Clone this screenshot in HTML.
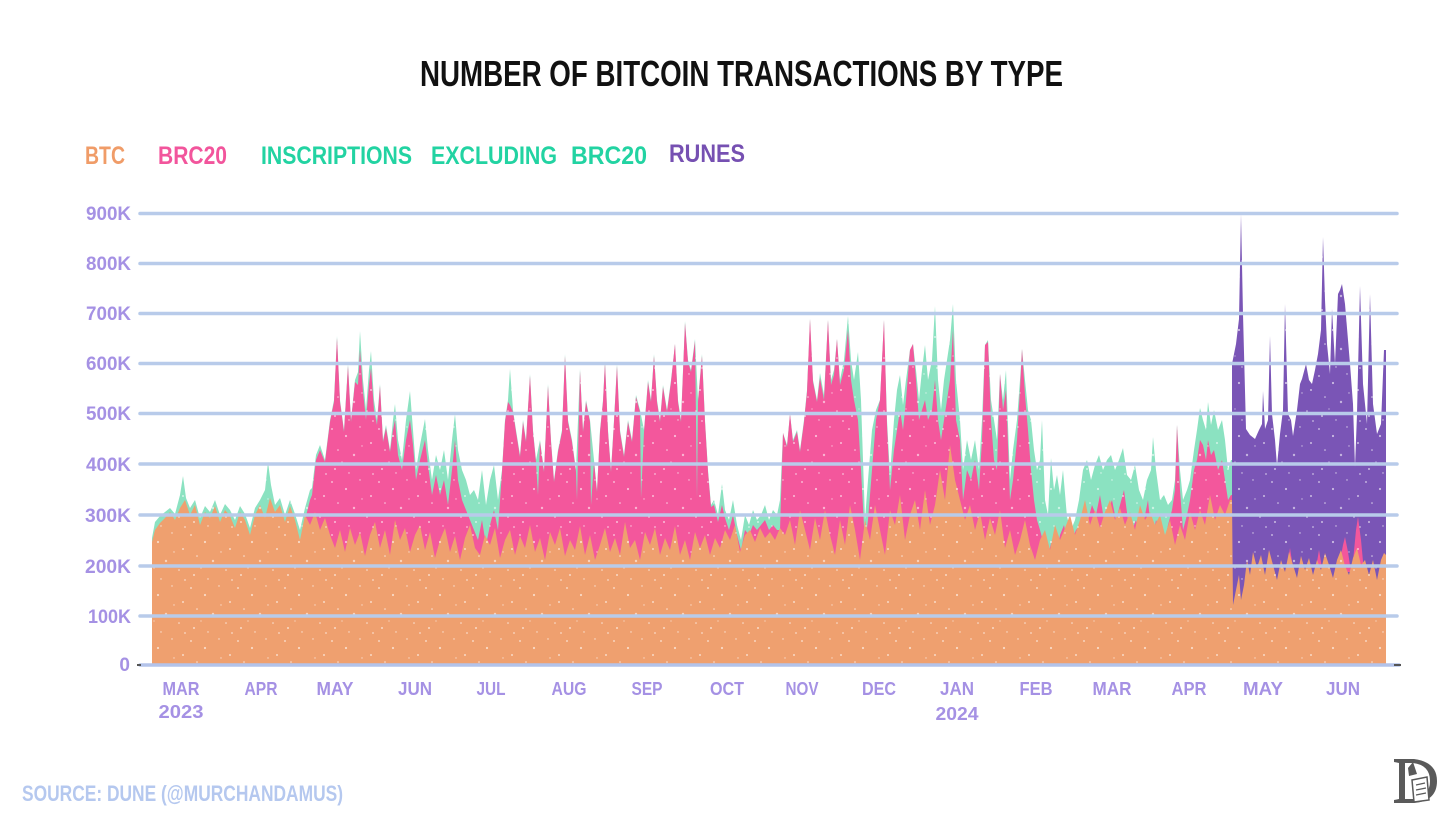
<!DOCTYPE html>
<html><head><meta charset="utf-8">
<style>
html,body{margin:0;padding:0;background:#fff;}
svg{display:block;}
text{font-family:"Liberation Sans",sans-serif;font-weight:bold;}
</style></head>
<body>
<svg width="1456" height="819" viewBox="0 0 1456 819" xmlns="http://www.w3.org/2000/svg" xmlns:xlink="http://www.w3.org/1999/xlink">
<defs>
<pattern id="spk" x="0" y="0" width="47" height="53" patternUnits="userSpaceOnUse">
<circle cx="3" cy="5" r="0.9" fill="#fff" fill-opacity="0.7"/>
<circle cx="17" cy="12" r="1.1" fill="#fff" fill-opacity="0.6"/>
<circle cx="31" cy="3" r="0.7" fill="#fff" fill-opacity="0.7"/>
<circle cx="42" cy="19" r="1" fill="#fff" fill-opacity="0.6"/>
<circle cx="9" cy="26" r="0.8" fill="#fff" fill-opacity="0.7"/>
<circle cx="25" cy="31" r="1.2" fill="#fff" fill-opacity="0.55"/>
<circle cx="38" cy="40" r="0.8" fill="#fff" fill-opacity="0.7"/>
<circle cx="6" cy="45" r="1" fill="#fff" fill-opacity="0.6"/>
<circle cx="20" cy="49" r="0.7" fill="#fff" fill-opacity="0.7"/>
<circle cx="33" cy="22" r="0.7" fill="#fff" fill-opacity="0.6"/>
<circle cx="13" cy="38" r="0.6" fill="#fff" fill-opacity="0.7"/>
<circle cx="44" cy="50" r="0.9" fill="#fff" fill-opacity="0.6"/>
</pattern>
<clipPath id="dclip">
<use xlink:href="#mintp"/>
<use xlink:href="#purp"/>
</clipPath>
</defs>
<rect width="1456" height="819" fill="#fff"/>

<g id="data">
<path id="purp" fill="#7a55b6" d="M1232,664 L1232,364 L1236,344 L1239,319 L1241,214 L1243,314 L1246,429 L1250,435 L1255,439 L1259,430 L1262,424 L1263,391 L1265,429 L1268,420 L1270,336 L1272,414 L1275,440 L1277,466 L1280,434 L1283,410 L1285,304 L1288,414 L1291,420 L1293,436 L1297,410 L1300,384 L1302,379 L1306,364 L1309,380 L1312,384 L1315,370 L1318,354 L1321,330 L1323,237 L1325,300 L1327,344 L1330,374 L1332,309 L1335,364 L1338,294 L1340,290 L1342,284 L1345,304 L1348,340 L1350,364 L1353,404 L1355,467 L1357,414 L1360,286 L1363,384 L1367,424 L1370,294 L1373,404 L1377,434 L1381,424 L1384,350 L1386,350 L1386,664 Z"/>

<path id="mintp" fill="#8be2c1" d="M152,664 L152,538 L155,522 L160,516 L165,512 L170,508 L175,514 L180,495 L183,476 L186,498 L190,508 L195,500 L200,518 L205,506 L210,512 L215,500 L220,515 L225,504 L230,510 L235,520 L240,506 L245,514 L250,528 L255,508 L260,500 L265,490 L268,462 L271,485 L275,505 L280,498 L285,515 L290,500 L295,514 L300,530 L305,508 L310,490 L312,488 L316,455 L320,445 L325,460 L330,420 L334,400 L337,336 L340,400 L344,430 L348,364 L351,420 L355,380 L358,372 L360,331 L363,380 L366,410 L369,370 L371,351 L374,400 L377,420 L380,384 L383,440 L386,425 L390,450 L393,420 L395,404 L398,440 L402,460 L406,420 L410,391 L413,430 L416,470 L420,445 L425,419 L428,450 L432,480 L436,455 L440,470 L444,450 L448,480 L452,440 L455,414 L458,450 L462,470 L466,480 L470,495 L474,490 L478,500 L482,470 L486,505 L490,480 L494,465 L498,500 L502,470 L505,420 L508,400 L510,369 L513,410 L516,430 L520,455 L523,420 L526,440 L530,374 L533,430 L536,460 L540,440 L544,470 L548,384 L551,440 L554,480 L558,450 L562,430 L565,354 L568,420 L572,440 L576,470 L580,369 L583,430 L586,400 L590,420 L594,460 L597,490 L600,430 L603,400 L605,361 L608,430 L611,470 L614,420 L617,364 L620,430 L624,455 L628,420 L632,440 L636,395 L640,410 L644,430 L648,380 L651,400 L654,354 L657,400 L660,420 L663,385 L667,410 L671,380 L675,344 L678,400 L681,420 L685,321 L688,360 L691,370 L695,339 L698,400 L702,354 L705,420 L708,470 L711,505 L714,500 L718,515 L722,484 L725,510 L729,520 L733,500 L737,525 L741,540 L745,515 L749,525 L753,510 L757,520 L761,515 L765,505 L769,520 L773,510 L777,515 L780,500 L783,433 L787,445 L790,414 L793,440 L797,430 L800,450 L804,420 L807,390 L810,319 L813,380 L817,400 L820,373 L824,395 L828,320 L831,380 L834,370 L837,339 L840,380 L844,360 L848,316 L851,360 L854,380 L858,352 L861,400 L865,520 L868,480 L872,430 L876,410 L880,400 L884,320 L887,420 L890,475 L894,420 L897,390 L900,375 L903,405 L906,380 L910,350 L913,344 L916,370 L919,400 L922,370 L925,345 L928,380 L932,360 L935,306 L938,380 L941,410 L944,380 L947,360 L950,340 L953,304 L956,380 L960,420 L963,470 L967,440 L971,460 L975,440 L979,470 L982,420 L985,345 L988,340 L991,400 L994,420 L997,440 L1000,374 L1003,400 L1006,370 L1010,480 L1013,450 L1017,420 L1020,380 L1022,349 L1025,380 L1028,410 L1031,420 L1034,450 L1037,470 L1040,460 L1042,420 L1045,500 L1048,515 L1051,458 L1054,490 L1057,475 L1060,495 L1063,470 L1067,517 L1071,530 L1075,520 L1079,500 L1083,470 L1087,460 L1091,480 L1095,465 L1099,455 L1103,470 L1107,460 L1111,455 L1115,470 L1119,460 L1123,448 L1127,475 L1131,480 L1135,465 L1139,490 L1143,500 L1147,480 L1151,470 L1153,437 L1156,470 L1160,500 L1164,495 L1168,505 L1172,500 L1175,480 L1177,425 L1180,470 L1183,500 L1187,490 L1190,480 L1194,450 L1197,430 L1200,408 L1203,420 L1206,430 L1208,402 L1211,425 L1214,410 L1218,430 L1222,420 L1225,440 L1228,470 L1231,460 L1232,460 L1232,664 Z"/>

<path fill="#f3579c" d="M152,664 L152,570 L300,570 L305,520 L310,500 L312,495 L316,460 L320,450 L325,462 L330,422 L334,402 L337,338 L340,402 L344,432 L348,366 L351,422 L355,382 L358,385 L360,350 L363,392 L366,420 L369,385 L371,368 L374,410 L377,425 L380,386 L383,442 L386,428 L390,452 L393,430 L395,420 L398,455 L402,470 L406,440 L410,420 L413,445 L416,480 L420,460 L425,440 L428,465 L432,495 L436,475 L440,495 L444,480 L448,505 L452,470 L455,440 L458,480 L462,500 L466,510 L470,520 L474,530 L478,540 L482,520 L486,545 L490,525 L494,510 L498,530 L502,472 L505,422 L508,402 L510,405 L513,412 L516,432 L520,457 L523,422 L526,442 L530,376 L533,432 L536,462 L538,495 L540,442 L544,472 L548,386 L551,442 L554,482 L558,452 L562,432 L565,356 L568,422 L572,442 L576,472 L577,500 L580,371 L583,432 L586,402 L590,422 L591,505 L594,462 L597,492 L600,432 L603,402 L605,363 L608,432 L611,472 L614,422 L617,366 L620,432 L624,457 L628,422 L632,442 L636,397 L640,412 L641,498 L644,432 L648,382 L651,402 L654,356 L657,402 L660,422 L663,387 L667,412 L671,382 L675,344 L678,402 L681,422 L685,323 L688,362 L691,372 L695,341 L697,498 L698,402 L702,356 L705,422 L708,472 L711,507 L714,505 L718,522 L722,505 L725,518 L729,530 L733,515 L737,535 L741,550 L745,530 L749,535 L753,525 L757,530 L761,525 L765,520 L769,530 L773,525 L777,530 L780,530 L783,433 L787,447 L790,414 L793,442 L797,432 L800,452 L804,422 L807,392 L810,319 L813,382 L817,402 L820,378 L824,400 L828,320 L831,385 L834,375 L837,339 L840,385 L844,370 L848,330 L851,380 L854,400 L858,420 L861,470 L865,545 L868,520 L872,470 L876,420 L880,400 L884,320 L887,425 L890,490 L894,450 L897,430 L900,410 L903,430 L906,400 L910,350 L913,344 L916,380 L919,420 L922,410 L925,400 L928,420 L932,410 L935,380 L938,420 L941,440 L944,420 L947,400 L950,380 L953,330 L956,420 L960,440 L963,500 L967,470 L971,480 L975,460 L979,490 L982,440 L985,345 L988,342 L991,420 L994,460 L997,470 L1000,374 L1003,410 L1006,390 L1010,500 L1013,480 L1017,440 L1020,390 L1022,349 L1025,395 L1028,430 L1031,470 L1034,500 L1037,520 L1040,530 L1044,545 L1048,555 L1052,540 L1056,560 L1060,535 L1064,525 L1068,545 L1072,540 L1076,530 L1080,525 L1084,510 L1088,520 L1092,505 L1096,515 L1100,495 L1104,520 L1108,510 L1112,500 L1116,520 L1120,505 L1124,490 L1128,520 L1132,530 L1136,520 L1140,540 L1144,520 L1148,500 L1152,540 L1156,520 L1160,530 L1164,545 L1168,525 L1172,510 L1175,490 L1177,425 L1180,490 L1183,530 L1187,515 L1190,500 L1194,470 L1197,460 L1200,440 L1203,445 L1206,460 L1208,440 L1211,455 L1214,450 L1218,470 L1222,460 L1225,480 L1228,500 L1231,495 L1232,495 L1232,664 Z"/>
<path fill="#f3579c" d="M1338,572 L1343,545 L1345,537 L1348,552 L1351,572 Z M1352,572 L1356,530 L1358,517 L1361,540 L1364,572 Z M1287,568 L1290,548 L1293,568 Z M1316,568 L1319,550 L1322,568 Z"/>

<path fill="#efa06f" d="M152,664 L152,542 L155,530 L160,523 L165,518 L170,512 L175,520 L180,508 L185,500 L190,515 L195,505 L200,525 L205,512 L210,518 L215,506 L220,522 L225,510 L230,516 L235,528 L240,512 L245,520 L250,535 L255,515 L260,505 L265,518 L270,498 L275,512 L280,505 L285,522 L290,506 L295,520 L300,540 L305,515 L310,525 L315,512 L320,530 L325,518 L330,535 L335,548 L340,530 L345,552 L350,528 L355,545 L360,532 L365,556 L370,535 L375,522 L380,548 L385,530 L390,555 L395,520 L400,540 L405,528 L410,552 L415,535 L420,525 L425,550 L430,532 L435,558 L440,540 L445,528 L450,552 L455,536 L460,560 L465,538 L470,525 L475,548 L480,555 L485,535 L490,545 L495,528 L500,558 L505,540 L510,530 L515,555 L520,536 L525,548 L530,525 L535,552 L540,538 L545,560 L550,532 L555,545 L560,528 L565,556 L570,540 L575,550 L580,526 L585,555 L590,535 L595,560 L600,545 L605,528 L610,552 L615,538 L620,555 L625,522 L630,548 L635,540 L640,560 L645,532 L650,545 L655,528 L660,555 L665,538 L670,550 L675,526 L680,555 L685,540 L690,560 L695,532 L700,548 L705,535 L710,555 L715,538 L720,548 L725,530 L730,540 L735,525 L740,552 L745,535 L750,530 L755,542 L760,528 L765,538 L770,532 L775,540 L780,528 L785,535 L790,520 L795,545 L800,510 L805,530 L810,550 L815,518 L820,540 L825,510 L830,535 L835,555 L840,520 L845,545 L850,505 L855,530 L860,560 L865,520 L870,540 L875,505 L880,530 L885,555 L890,510 L895,525 L900,495 L905,540 L910,515 L915,500 L920,530 L925,490 L930,525 L935,505 L940,470 L945,500 L950,445 L955,480 L960,500 L965,520 L970,505 L975,530 L980,512 L985,540 L990,518 L995,535 L1000,510 L1005,548 L1010,530 L1015,555 L1020,540 L1025,520 L1030,545 L1035,560 L1040,540 L1045,530 L1050,550 L1055,525 L1060,540 L1065,528 L1070,515 L1075,535 L1080,520 L1085,500 L1090,525 L1095,510 L1100,528 L1105,512 L1110,500 L1115,520 L1120,508 L1125,525 L1130,512 L1135,530 L1140,505 L1145,520 L1150,512 L1155,525 L1160,515 L1165,535 L1170,520 L1175,545 L1180,525 L1185,540 L1190,512 L1195,530 L1200,510 L1205,525 L1210,495 L1215,520 L1220,505 L1225,515 L1230,500 L1232,500 L1233,605 L1236,590 L1239,575 L1241,600 L1244,585 L1247,560 L1250,575 L1253,552 L1257,568 L1261,555 L1265,575 L1269,550 L1273,565 L1277,580 L1281,560 L1285,572 L1289,552 L1293,565 L1297,578 L1301,556 L1305,570 L1309,558 L1313,575 L1317,560 L1321,570 L1325,553 L1329,565 L1333,578 L1337,560 L1341,550 L1345,566 L1349,575 L1353,558 L1357,548 L1361,565 L1365,560 L1369,575 L1373,560 L1377,580 L1381,560 L1384,553 L1386,555 L1386,664 Z"/>

<rect x="150" y="200" width="1240" height="466" fill="url(#spk)" clip-path="url(#dclip)"/>
</g>

<g stroke="#b8cbea" stroke-width="3.5" stroke-linecap="round">
<line x1="140" x2="1397" y1="213.5" y2="213.5"/>
<line x1="140" x2="1397" y1="263.5" y2="263.5"/>
<line x1="140" x2="1397" y1="313.5" y2="313.5"/>
<line x1="140" x2="1397" y1="363.5" y2="363.5"/>
<line x1="140" x2="1397" y1="413.5" y2="413.5"/>
<line x1="140" x2="1397" y1="464" y2="464"/>
<line x1="140" x2="1397" y1="515" y2="515"/>
<line x1="140" x2="1397" y1="566" y2="566"/>
<line x1="140" x2="1397" y1="616" y2="616"/>
<line x1="140" x2="1399" y1="665" y2="665" stroke="#b3c3ea"/>
</g>
<line x1="1394" x2="1401" y1="665" y2="665" stroke="#555" stroke-width="2"/>
<line x1="137" x2="141" y1="665" y2="665" stroke="#555" stroke-width="2"/>

<text x="420" y="86" font-size="36" fill="#111" textLength="643" lengthAdjust="spacingAndGlyphs">NUMBER OF BITCOIN TRANSACTIONS BY TYPE</text>

<g font-size="25">
<text x="85" y="164" fill="#f09c68" textLength="40" lengthAdjust="spacingAndGlyphs">BTC</text>
<text x="158" y="164" fill="#f2559c" textLength="69" lengthAdjust="spacingAndGlyphs">BRC20</text>
<text x="261" y="164" fill="#22d3a2" textLength="151" lengthAdjust="spacingAndGlyphs">INSCRIPTIONS</text>
<text x="431" y="164" fill="#22d3a2" textLength="126" lengthAdjust="spacingAndGlyphs">EXCLUDING</text>
<text x="571" y="164" fill="#22d3a2" textLength="76" lengthAdjust="spacingAndGlyphs">BRC20</text>
<text x="669" y="162" fill="#7650b2" textLength="76" lengthAdjust="spacingAndGlyphs">RUNES</text>
</g>

<g font-size="19" fill="#a591e4" text-anchor="end">
<text x="131" y="220" textLength="45" lengthAdjust="spacingAndGlyphs">900K</text>
<text x="131" y="270" textLength="45" lengthAdjust="spacingAndGlyphs">800K</text>
<text x="131" y="320" textLength="45" lengthAdjust="spacingAndGlyphs">700K</text>
<text x="131" y="370" textLength="45" lengthAdjust="spacingAndGlyphs">600K</text>
<text x="131" y="420" textLength="45" lengthAdjust="spacingAndGlyphs">500K</text>
<text x="131" y="471" textLength="45" lengthAdjust="spacingAndGlyphs">400K</text>
<text x="131" y="522" textLength="46" lengthAdjust="spacingAndGlyphs">300K</text>
<text x="131" y="573" textLength="46" lengthAdjust="spacingAndGlyphs">200K</text>
<text x="131" y="623" textLength="43" lengthAdjust="spacingAndGlyphs">100K</text>
<text x="130" y="671">0</text>
</g>

<g font-size="18" fill="#a591e4" text-anchor="middle">
<text x="181" y="695" textLength="37" lengthAdjust="spacingAndGlyphs">MAR</text>
<text x="261" y="695" textLength="33" lengthAdjust="spacingAndGlyphs">APR</text>
<text x="335" y="695" textLength="37" lengthAdjust="spacingAndGlyphs">MAY</text>
<text x="415" y="695" textLength="34" lengthAdjust="spacingAndGlyphs">JUN</text>
<text x="491" y="695" textLength="29" lengthAdjust="spacingAndGlyphs">JUL</text>
<text x="569" y="695" textLength="35" lengthAdjust="spacingAndGlyphs">AUG</text>
<text x="647" y="695" textLength="31" lengthAdjust="spacingAndGlyphs">SEP</text>
<text x="727" y="695" textLength="34" lengthAdjust="spacingAndGlyphs">OCT</text>
<text x="802" y="695" textLength="33" lengthAdjust="spacingAndGlyphs">NOV</text>
<text x="879" y="695" textLength="34" lengthAdjust="spacingAndGlyphs">DEC</text>
<text x="957" y="695" textLength="34" lengthAdjust="spacingAndGlyphs">JAN</text>
<text x="1036" y="695" textLength="33" lengthAdjust="spacingAndGlyphs">FEB</text>
<text x="1112" y="695" textLength="39" lengthAdjust="spacingAndGlyphs">MAR</text>
<text x="1189" y="695" textLength="35" lengthAdjust="spacingAndGlyphs">APR</text>
<text x="1263" y="695" textLength="40" lengthAdjust="spacingAndGlyphs">MAY</text>
<text x="1343" y="695" textLength="34" lengthAdjust="spacingAndGlyphs">JUN</text>
<text x="181" y="718" textLength="45" lengthAdjust="spacingAndGlyphs">2023</text>
<text x="957" y="720" textLength="43" lengthAdjust="spacingAndGlyphs">2024</text>
</g>

<text x="22" y="801" font-size="22" fill="#b5c8ef" textLength="321" lengthAdjust="spacingAndGlyphs">SOURCE: DUNE (@MURCHANDAMUS)</text>

<g>
<path d="M1394 759 L1414 759 Q1437 762 1437 781 Q1437 801 1414 803 L1394 803 L1394 800 L1399 799 L1399 763 L1394 762 Z M1405 763 L1405 799 L1413 799 Q1430 797 1430 781 Q1430 765 1413 763 Z" fill="#5a5a5a"/>
<path d="M1408 768 L1413 762 L1417 774 L1409 776 Z" fill="#5a5a5a"/>
<path d="M1412 780 L1427 777 L1429 800 L1414 802 Z" fill="#fff" stroke="#5a5a5a" stroke-width="1.5"/>
<path d="M1416 785 L1425 783 M1416 790 L1426 788 M1416 795 L1426 793" stroke="#5a5a5a" stroke-width="1.2"/>
</g>
</svg>
</body></html>
